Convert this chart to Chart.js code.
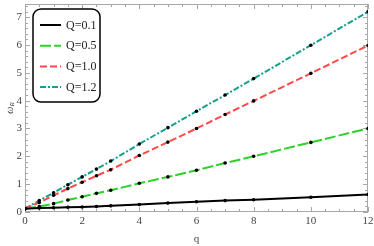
<!DOCTYPE html>
<html>
<head>
<meta charset="utf-8">
<script src="https://cdn.jsdelivr.net/npm/chart.js@4.4.1/dist/chart.umd.min.js"></script>
<style>
  html, body { margin: 0; padding: 0; background: #fff; }
  #wrap { width: 374px; height: 246px; }
</style>
</head>
<body>
<div id="wrap"><canvas id="c"></canvas></div>
<script>
// ── DATA ───────────────────────────────────────────────────────────────
const qValues = [0, 0.5, 1, 1.5, 2, 2.5, 3, 4, 5, 6, 7, 8, 10, 12];
const seriesLabels = ['Q=0.1', 'Q=0.5', 'Q=1.0', 'Q=1.2'];
const omegaQ01 = [0.12, 0.14, 0.15, 0.17, 0.18, 0.20, 0.22, 0.27, 0.32, 0.37, 0.41, 0.44, 0.53, 0.63];
const omegaQ05 = [0.12, 0.20, 0.30, 0.43, 0.55, 0.67, 0.78, 1.03, 1.26, 1.50, 1.76, 2.00, 2.50, 3.00];
const omegaQ10 = [0.12, 0.34, 0.60, 0.84, 1.07, 1.30, 1.52, 2.03, 2.51, 3.00, 3.50, 3.99, 4.98, 5.98];
const omegaQ12 = [0.12, 0.41, 0.69, 0.98, 1.26, 1.54, 1.83, 2.44, 3.03, 3.62, 4.20, 4.79, 5.99, 7.19];
const xTicks = [0, 2, 4, 6, 8, 10, 12];
const yTicks = [0, 1, 2, 3, 4, 5, 6, 7];

// ── STYLE ──────────────────────────────────────────────────────────────
const SERIF = '"Liberation Serif", "DejaVu Serif", serif';
const STYLES = [
  { color: '#000000', dash: [] },
  { color: '#2ed12a', dash: [11, 3] },
  { color: '#ff4a4a', dash: [7, 3] },
  { color: '#179e8c', dash: [6, 2, 2, 2] },
];

const toPts = arr => qValues.map((q, i) => ({ x: q, y: arr[i] }));
const allSeries = [omegaQ01, omegaQ05, omegaQ10, omegaQ12];

const datasets = allSeries.map((arr, i) => ({
  label: seriesLabels[i],
  data: toPts(arr),
  borderColor: STYLES[i].color,
  borderDash: STYLES[i].dash,
  borderWidth: 2,
  pointRadius: 1.8,
  pointBackgroundColor: '#000',
  pointBorderColor: '#000',
  pointBorderWidth: 0,
  tension: 0,
}));

// frame with inward ticks, like the reference
const framePlugin = {
  id: 'frame',
  beforeDatasetsDraw(chart) {
    const { ctx, chartArea: a, scales: { x, y } } = chart;
    ctx.save();
    ctx.strokeStyle = '#a8a8a8';
    ctx.lineWidth = 1;
    ctx.strokeRect(a.left + 0.5, a.top + 0.5, a.right - a.left - 1, a.bottom - a.top - 1);
    ctx.beginPath();
    for (let v = x.min; v <= x.max + 1e-9; v += 0.5) {
      const px = Math.round(x.getPixelForValue(v)) + 0.5;
      const len = Math.abs(v % 2) < 1e-9 ? 5 : 3;
      ctx.moveTo(px, a.bottom); ctx.lineTo(px, a.bottom - len);
      ctx.moveTo(px, a.top); ctx.lineTo(px, a.top + len);
    }
    for (let v = 0; v <= y.max + 1e-9; v += 0.2) {
      const py = Math.round(y.getPixelForValue(v)) + 0.5;
      const len = Math.abs(v - Math.round(v)) < 1e-6 ? 5 : 3;
      ctx.moveTo(a.left, py); ctx.lineTo(a.left + len, py);
      ctx.moveTo(a.right, py); ctx.lineTo(a.right - len, py);
    }
    ctx.stroke();
    ctx.restore();
  },
  afterDraw(chart) {
    const { ctx, chartArea: a } = chart;
    ctx.save();
    // y-axis title: omega with subscript R
    ctx.translate(10, (a.top + a.bottom) / 2);
    ctx.rotate(-Math.PI / 2);
    ctx.fillStyle = '#444';
    ctx.textBaseline = 'middle';
    ctx.font = 'italic 10px ' + SERIF;
    const w1 = ctx.measureText('ω').width;
    ctx.font = 'italic 7px ' + SERIF;
    const w2 = ctx.measureText('R').width;
    const start = -(w1 + w2) / 2;
    ctx.font = 'italic 10px ' + SERIF;
    ctx.textAlign = 'left';
    ctx.fillText('ω', start, 0);
    ctx.font = 'italic 7px ' + SERIF;
    ctx.fillText('R', start + w1, 2.5);
    ctx.restore();

    // legend box
    const bx = a.left + 8, by = a.top + 5, bw = 67, bh = 93, r = 8;
    ctx.save();
    ctx.fillStyle = '#fff';
    ctx.strokeStyle = '#000';
    ctx.lineWidth = 1.5;
    ctx.beginPath();
    ctx.roundRect(bx, by, bw, bh, r);
    ctx.fill();
    ctx.stroke();
    chart.data.datasets.forEach((ds, i) => {
      const cy = by + 16 + i * 20.7;
      ctx.strokeStyle = ds.borderColor;
      ctx.lineWidth = 2;
      ctx.setLineDash(ds.borderDash);
      ctx.beginPath();
      ctx.moveTo(bx + 7, cy);
      ctx.lineTo(bx + 28, cy);
      ctx.stroke();
      ctx.setLineDash([]);
      ctx.fillStyle = '#222';
      ctx.font = '12px ' + SERIF;
      ctx.textBaseline = 'middle';
      ctx.textAlign = 'left';
      ctx.fillText(ds.label, bx + 33, cy + 0.5);
    });
    ctx.restore();
  },
};

new Chart(document.getElementById('c'), {
  type: 'line',
  data: { datasets },
  options: {
    responsive: true,
    maintainAspectRatio: false,
    animation: false,
    layout: { padding: { top: 1, right: 6, left: 0, bottom: 0 } },
    plugins: { legend: { display: false }, tooltip: { enabled: false } },
    scales: {
      x: {
        type: 'linear',
        min: 0, max: 12,
        afterBuildTicks: s => { s.ticks = xTicks.map(v => ({ value: v })); },
        afterFit: s => { s.height = 34; s.paddingLeft = 0; s.paddingRight = 0; },
        ticks: { color: '#444', font: { family: SERIF, size: 11 }, padding: 3, maxRotation: 0 },
        grid: { display: false, drawTicks: false },
        border: { display: false },
        title: { display: true, text: 'q', color: '#444', font: { family: SERIF, size: 11 }, padding: { top: 2, bottom: 0 } },
      },
      y: {
        type: 'linear',
        min: 0, max: 7.47,
        afterBuildTicks: s => { s.ticks = yTicks.map(v => ({ value: v })); },
        afterFit: s => { s.width = 25; s.paddingTop = 0; s.paddingBottom = 0; },
        ticks: { color: '#444', font: { family: SERIF, size: 11 }, padding: 3 },
        grid: { display: false, drawTicks: false },
        border: { display: false },
      },
    },
  },
  plugins: [framePlugin],
});
</script>
</body>
</html>
